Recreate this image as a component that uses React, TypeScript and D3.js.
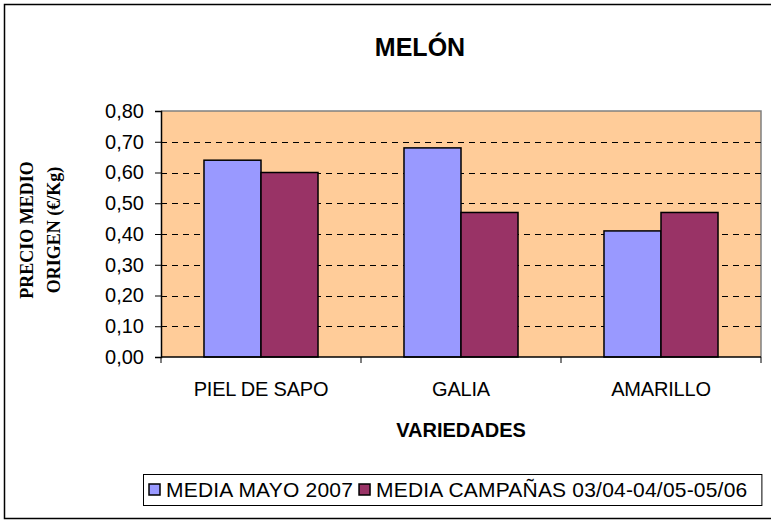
import React, { useEffect, useRef } from 'react';
import * as d3 from 'd3';

const categories: string[] = ['PIEL DE SAPO', 'GALIA', 'AMARILLO'];
const seriesNames: string[] = ['MEDIA MAYO 2007', 'MEDIA CAMPAÑAS 03/04-04/05-05/06'];
const mayo2007: number[] = [0.64, 0.68, 0.41];
const campanas: number[] = [0.6, 0.47, 0.47];
const yTicks: number[] = [0, 0.1, 0.2, 0.3, 0.4, 0.5, 0.6, 0.7, 0.8];
const colors: string[] = ['#9999FF', '#993366'];

const App = () => {
  const ref = useRef<SVGSVGElement>(null);

  useEffect(() => {
    const svg = d3.select(ref.current);
    svg.selectAll('*').remove();

    const sans = '"Liberation Sans", Arial, sans-serif';
    const serif = '"Liberation Serif", "Times New Roman", serif';
    const plot = { left: 161, right: 761, top: 111, bottom: 357 };

    // outer frame
    svg
      .append('rect')
      .attr('x', 4.5)
      .attr('y', 4.5)
      .attr('width', 771)
      .attr('height', 514)
      .attr('fill', '#fff')
      .attr('stroke', '#000')
      .attr('stroke-width', 1.5);

    const x0 = d3.scaleBand<string>().domain(categories).range([plot.left, plot.right]);
    const x1 = d3
      .scaleBand<number>()
      .domain([0, 1])
      .range([0, x0.bandwidth()])
      .paddingOuter(0.754);
    const y = d3.scaleLinear().domain([0, 0.8]).range([plot.bottom, plot.top]);

    // plot background
    svg
      .append('rect')
      .attr('x', plot.left)
      .attr('y', plot.top)
      .attr('width', plot.right - plot.left)
      .attr('height', plot.bottom - plot.top)
      .attr('fill', '#FFCC99');

    // gray border top/right
    svg
      .append('path')
      .attr('d', `M${plot.left},${plot.top}H${plot.right}V${plot.bottom}`)
      .attr('fill', 'none')
      .attr('stroke', '#808080')
      .attr('stroke-width', 1.5);

    // gridlines
    svg
      .append('g')
      .selectAll('line')
      .data(yTicks.filter(t => t > 0 && t < 0.8))
      .join('line')
      .attr('x1', plot.left)
      .attr('x2', plot.right)
      .attr('y1', d => Math.round(y(d)) + 0.5)
      .attr('y2', d => Math.round(y(d)) + 0.5)
      .attr('stroke', '#000')
      .attr('stroke-width', 1)
      .attr('stroke-dasharray', '6,5');

    // bars
    const seriesData = [mayo2007, campanas];
    seriesData.forEach((vals, si) => {
      svg
        .append('g')
        .selectAll('rect')
        .data(vals)
        .join('rect')
        .attr('x', (d, i) => x0(categories[i])! + x1(si)!)
        .attr('y', d => y(d))
        .attr('width', x1.bandwidth())
        .attr('height', d => plot.bottom - y(d))
        .attr('fill', colors[si])
        .attr('stroke', '#000')
        .attr('stroke-width', 1.5);
    });

    // y axis
    const yAxis = d3
      .axisLeft(y)
      .tickValues(yTicks)
      .tickSize(6)
      .tickPadding(11)
      .tickFormat(d => d3.format('.2f')(d as number).replace('.', ','));
    const gy = svg.append('g').attr('transform', `translate(${plot.left},0)`).call(yAxis);
    gy.select('.domain').attr('stroke', '#000').attr('stroke-width', 1.5);
    gy.selectAll('.tick line').attr('stroke', '#000');
    gy.selectAll('.tick text')
      .attr('font-family', sans)
      .attr('font-size', 20)
      .attr('fill', '#000');

    // x axis
    svg
      .append('line')
      .attr('x1', plot.left)
      .attr('x2', plot.right)
      .attr('y1', plot.bottom)
      .attr('y2', plot.bottom)
      .attr('stroke', '#000')
      .attr('stroke-width', 1.5);
    svg
      .append('g')
      .selectAll('line')
      .data([...categories.map(c => x0(c)!), plot.right])
      .join('line')
      .attr('x1', d => d)
      .attr('x2', d => d)
      .attr('y1', plot.bottom)
      .attr('y2', plot.bottom + 6)
      .attr('stroke', '#000');
    svg
      .append('g')
      .selectAll('text')
      .data(categories)
      .join('text')
      .attr('x', d => x0(d)! + x0.bandwidth() / 2)
      .attr('y', 396)
      .attr('text-anchor', 'middle')
      .attr('font-family', sans)
      .attr('font-size', 20)
      .attr('letter-spacing', -0.2)
      .text(d => d);

    // titles
    svg
      .append('text')
      .attr('x', 420)
      .attr('y', 56)
      .attr('text-anchor', 'middle')
      .attr('font-family', sans)
      .attr('font-weight', 'bold')
      .attr('font-size', 25)
      .text('MELÓN');

    svg
      .append('text')
      .attr('x', (plot.left + plot.right) / 2)
      .attr('y', 437)
      .attr('text-anchor', 'middle')
      .attr('font-family', sans)
      .attr('font-weight', 'bold')
      .attr('font-size', 20)
      .text('VARIEDADES');

    const yTitle = svg
      .append('g')
      .attr('transform', 'translate(0,230) rotate(-90)')
      .attr('font-family', serif)
      .attr('font-weight', 'bold')
      .attr('font-size', 18)
      .attr('text-anchor', 'middle');
    yTitle.append('text').attr('x', 0).attr('y', 33).text('PRECIO MEDIO');
    yTitle.append('text').attr('x', 0).attr('y', 60).text('ORIGEN (€/Kg)');

    // legend
    const legend = svg.append('g');
    const box = legend
      .append('rect')
      .attr('y', 474.5)
      .attr('height', 31)
      .attr('fill', '#fff')
      .attr('stroke', '#000')
      .attr('stroke-width', 1);
    const startX = 149;
    let cx = startX;
    seriesNames.forEach((name, i) => {
      legend
        .append('rect')
        .attr('x', cx)
        .attr('y', 484)
        .attr('width', 11)
        .attr('height', 11)
        .attr('fill', colors[i])
        .attr('stroke', '#000')
        .attr('stroke-width', 1.5);
      const t = legend
        .append('text')
        .attr('x', cx + 17)
        .attr('y', 497)
        .attr('font-family', sans)
        .attr('font-size', 21)
        .attr('letter-spacing', 0.2)
        .text(name);
      const w = (t.node() as SVGTextElement).getComputedTextLength();
      cx = cx + 17 + w + 6;
    });
    box.attr('x', startX - 5.5).attr('width', cx - startX + 14);
  }, []);

  return (
    <svg
      ref={ref}
      width={771}
      height={524}
      style={{ position: 'absolute', left: 0, top: 0, background: '#fff' }}
    />
  );
};

export default App;
